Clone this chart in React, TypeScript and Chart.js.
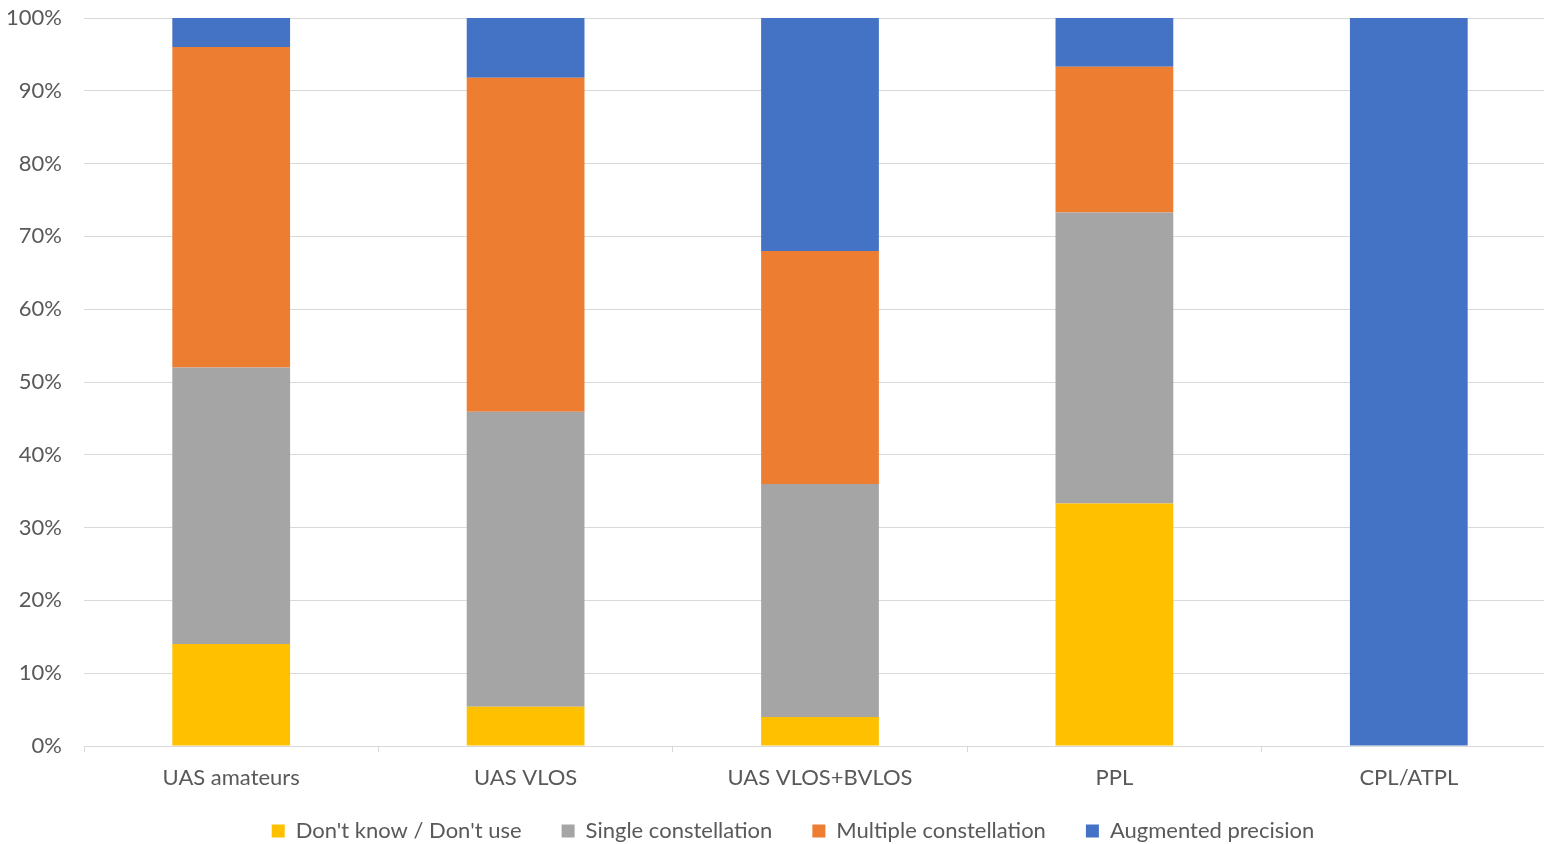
import React, { useEffect, useRef } from "react";
import { Chart, registerables } from "chart.js";

Chart.register(...registerables);

// Share of respondents (%) by pilot group
const categories = ["UAS amateurs", "UAS VLOS", "UAS VLOS+BVLOS", "PPL", "CPL/ATPL"];
const dontKnow = [14, 5.4, 4, 33.3, 0];
const singleConstellation = [38, 40.5, 32, 40, 0];
const multipleConstellation = [44, 45.9, 32, 20, 0];
const augmentedPrecision = [4, 8.2, 32, 6.7, 100];
const yTicks = [0, 10, 20, 30, 40, 50, 60, 70, 80, 90, 100];

const TEXT = "#595959";
const GRID = "#d9d9d9";
const FONT = "Lato, 'Open Sans', sans-serif";

// The plot runs a little past the right edge of the visible frame
const VIEW_W = 1544;
const CANVAS_W = 1556;
const CANVAS_H = 844;

// Fixes the legend block height and nudges the legend row into place
const legendPlacement = {
  id: "legendPlacement",
  beforeLayout(chart: any) {
    const legend = chart.legend;
    if (legend && !legend.__patched) {
      const fit = legend.fit;
      legend.fit = function (this: any) {
        fit.call(this);
        this.height = 48;
      };
      legend.__patched = true;
    }
  },
  afterLayout(chart: any) {
    if (chart.legend) {
      chart.legend.left += 30;
      chart.legend.top -= 16;
    }
  },
};

export default function App() {
  const canvasRef = useRef<HTMLCanvasElement | null>(null);

  useEffect(() => {
    document.body.style.margin = "0";
    const canvas = canvasRef.current;
    if (!canvas) return;
    const chart = new Chart(canvas, {
      type: "bar",
      data: {
        labels: categories,
        datasets: [
          { label: "Don't know / Don't use", data: dontKnow, backgroundColor: "#ffc000" },
          { label: "Single constellation", data: singleConstellation, backgroundColor: "#a5a5a5" },
          { label: "Multiple constellation", data: multipleConstellation, backgroundColor: "#ed7d31" },
          { label: "Augmented precision", data: augmentedPrecision, backgroundColor: "#4472c4" },
        ],
      },
      options: {
        animation: false,
        responsive: false,
        maintainAspectRatio: false,
        layout: { padding: { top: 18, right: 0, left: 0, bottom: 0 } },
        datasets: { bar: { barPercentage: 0.4, categoryPercentage: 1 } },
        plugins: {
          tooltip: { enabled: false },
          legend: {
            position: "bottom",
            labels: {
              color: TEXT,
              font: { family: FONT, size: 22 },
              boxWidth: 13,
              boxHeight: 13,
              padding: 40,
            },
          },
        },
        scales: {
          x: {
            stacked: true,
            grid: {
              offset: true,
              drawOnChartArea: false,
              drawTicks: true,
              tickLength: 6,
              color: GRID,
            },
            border: { color: GRID, width: 1 },
            ticks: { color: TEXT, font: { family: FONT, size: 22 }, padding: 13 },
            afterFit: (scale: any) => {
              scale.height = 50;
              scale.paddingLeft = 0;
              scale.paddingRight = 0;
            },
          },
          y: {
            stacked: true,
            min: 0,
            max: 100,
            afterBuildTicks: (scale: any) => {
              scale.ticks = yTicks.map((v) => ({ value: v }));
            },
            afterFit: (scale: any) => {
              scale.width = 84;
              scale.paddingTop = 0;
              scale.paddingBottom = 0;
            },
            grid: { color: GRID, drawTicks: false },
            border: { display: false },
            ticks: {
              color: TEXT,
              font: { family: FONT, size: 22 },
              padding: 22,
              callback: (v: any) => `${v}%`,
            },
          },
        },
      },
      plugins: [legendPlacement],
    });
    return () => chart.destroy();
  }, []);

  return (
    <div style={{ width: VIEW_W, height: CANVAS_H, overflow: "hidden" }}>
      <canvas ref={canvasRef} width={CANVAS_W} height={CANVAS_H} style={{ display: "block" }} />
    </div>
  );
}
